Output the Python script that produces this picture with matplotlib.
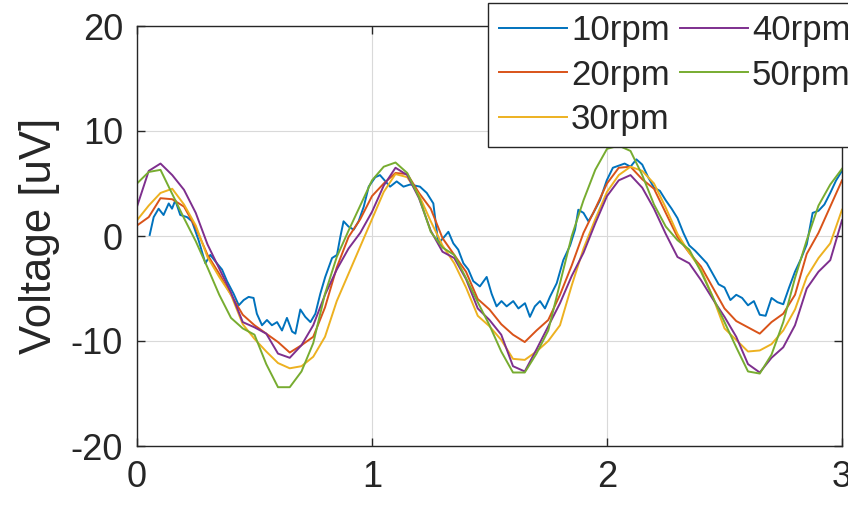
"""
Voltage traces for five rotation speeds, MATLAB-like look.
"""
import numpy as np
import matplotlib
matplotlib.use("Agg")
import matplotlib.pyplot as plt

plt.rcParams["font.family"] = ["Liberation Sans", "DejaVu Sans"]
plt.rcParams["axes.unicode_minus"] = False

# time axis (s), 0.05 step for the smoother traces
t = np.linspace(0, 3, 61)

# 10rpm is noisier, read at its own points
t10 = [0.054, 0.071, 0.092, 0.113, 0.135, 0.149, 0.163, 0.184, 0.213, 0.234,
       0.262, 0.291, 0.312, 0.340, 0.362, 0.383, 0.411, 0.433, 0.454, 0.475,
       0.496, 0.510, 0.532, 0.553, 0.574, 0.596, 0.617, 0.638, 0.660, 0.674,
       0.695, 0.716, 0.738, 0.759, 0.780, 0.801, 0.830, 0.851, 0.865, 0.879,
       0.900, 0.922, 0.943, 0.965, 0.986, 1.014, 1.034, 1.077, 1.105, 1.134,
       1.162, 1.204, 1.233, 1.261, 1.282, 1.303, 1.325, 1.346, 1.367, 1.389,
       1.410, 1.431, 1.459, 1.488, 1.509, 1.530, 1.551, 1.573, 1.601, 1.623,
       1.651, 1.672, 1.693, 1.715, 1.736, 1.757, 1.786, 1.814, 1.843, 1.864,
       1.878, 1.900, 1.921, 1.942, 1.970, 1.999, 2.025, 2.050, 2.075, 2.100,
       2.125, 2.150, 2.175, 2.200, 2.225, 2.250, 2.275, 2.300, 2.325, 2.350,
       2.375, 2.400, 2.425, 2.450, 2.475, 2.500, 2.525, 2.550, 2.575, 2.600,
       2.625, 2.650, 2.675, 2.700, 2.725, 2.750, 2.775, 2.800, 2.825, 2.850,
       2.875, 2.900, 2.925, 2.950, 2.975, 3.000]
rpm10 = [0.1, 1.8, 2.6, 2.0, 3.1, 2.6, 3.4, 2.0, 1.8, 1.4,
         -0.4, -2.6, -1.8, -2.6, -3.2, -4.3, -5.5, -6.6, -6.1, -5.8,
         -5.9, -7.4, -8.5, -8.0, -8.5, -8.2, -9.0, -7.8, -9.1, -9.3,
         -7.0, -7.7, -8.2, -7.4, -5.5, -3.9, -2.1, -1.8, -0.1, 1.4,
         0.9, 0.6, 1.4, 2.8, 4.7, 5.6, 5.8, 4.7, 5.2, 4.7,
         4.9, 4.7, 4.1, 3.1, -0.7, -0.2, 0.4, -0.7, -1.3, -2.6,
         -3.2, -4.3, -4.8, -3.9, -5.5, -6.7, -6.2, -6.7, -6.2, -6.9,
         -6.4, -7.7, -6.7, -6.2, -6.9, -5.8, -4.5, -2.3, -0.9, 0.6,
         2.5, 2.2, 1.4, 2.2, 3.4, 5.3, 6.5, 6.7, 6.9, 6.6,
         7.3, 6.8, 5.6, 4.6, 4.3, 3.4, 2.6, 1.7, 0.3, -0.9,
         -1.4, -2.0, -2.6, -3.6, -4.6, -4.9, -6.1, -5.6, -5.9, -6.6,
         -6.2, -7.5, -7.6, -5.9, -6.3, -6.5, -4.9, -3.4, -2.2, -0.8,
         2.2, 2.4, 3.0, 4.1, 5.3, 6.2]
rpm20 = [1.0, 1.8, 3.6, 3.5, 2.8, 0.8, -1.8, -3.6, -5.6, -7.5,
         -8.5, -9.3, -10.1, -11.1, -10.4, -9.6, -6.8, -3.0, -0.1, 1.6,
         3.8, 5.0, 6.0, 5.9, 4.1, 2.6, -0.2, -1.8, -3.4, -6.0,
         -7.0, -8.4, -9.4, -10.1, -9.0, -8.0, -5.6, -2.8, 0.3, 2.6,
         5.0, 6.5, 6.6, 5.4, 4.5, 2.2, -0.1, -1.6, -2.9, -4.9,
         -6.9, -8.1, -8.7, -9.3, -8.2, -7.4, -5.6, -1.7, 0.3, 2.8,
         5.3]
rpm30 = [1.5, 2.9, 4.1, 4.5, 3.0, 1.0, -2.0, -3.9, -5.6, -8.4,
         -9.8, -11.0, -12.1, -12.6, -12.4, -11.5, -9.6, -6.2, -3.6, -1.0,
         1.6, 4.2, 5.9, 5.6, 3.9, 1.4, -0.9, -2.6, -4.9, -7.6,
         -8.6, -9.9, -11.7, -11.8, -11.0, -10.0, -8.5, -4.7, -1.2, 1.6,
         4.2, 5.8, 6.6, 6.2, 5.0, 2.7, 0.2, -1.6, -3.2, -5.8,
         -8.8, -9.9, -11.0, -10.9, -10.3, -9.0, -7.0, -3.9, -2.1, -0.7,
         2.5]
rpm40 = [2.8, 6.2, 6.9, 5.8, 4.4, 2.2, -0.8, -3.1, -5.4, -8.2,
         -8.7, -9.3, -11.2, -11.6, -10.4, -8.5, -5.6, -3.2, -1.2, 0.3,
         2.3, 4.8, 6.5, 5.8, 3.6, 0.5, -1.5, -2.1, -4.1, -6.9,
         -8.0, -9.4, -12.4, -12.9, -10.8, -8.6, -6.4, -3.8, -1.6, 1.2,
         3.8, 5.3, 5.8, 4.6, 2.6, 0.2, -2.0, -2.6, -4.2, -6.0,
         -7.7, -9.6, -12.2, -13.0, -11.6, -10.6, -8.5, -5.0, -3.4, -2.3,
         1.5]
rpm50 = [5.0, 6.1, 6.3, 4.0, 1.7, -0.5, -3.0, -5.6, -7.8, -8.8,
         -9.4, -12.2, -14.4, -14.4, -12.9, -10.2, -5.5, -2.0, 0.5, 2.9,
         5.3, 6.6, 7.0, 6.0, 3.7, 0.4, -1.1, -1.8, -4.0, -6.3,
         -8.5, -11.0, -13.0, -13.0, -11.2, -9.0, -4.5, 0.0, 3.4, 6.3,
         8.3, 8.6, 8.1, 5.8, 3.0, 0.9, -0.4, -1.3, -3.4, -5.8,
         -8.2, -10.6, -12.9, -13.1, -11.3, -8.2, -4.0, -0.4, 2.9, 4.9,
         6.4]

labels = ["10rpm", "20rpm", "30rpm", "40rpm", "50rpm"]
colors = ["#0072BD", "#D95319", "#EDB120", "#7E2F8E", "#77AC30"]

fig = plt.figure(figsize=(8.48, 5.07), dpi=100)
ax = fig.add_axes([137/848, 61/507, 705/848, 420/507])

series = [(t10, rpm10), (t, rpm20), (t, rpm30), (t, rpm40), (t, rpm50)]
for (x, y), lab, c in zip(series, labels, colors):
    ax.plot(x, y, color=c, lw=1.4, label=lab)

ax.set_xlim(0, 3)
ax.set_ylim(-20, 20)
ax.set_xticks([0, 1, 2, 3])
ax.set_yticks([-20, -10, 0, 10, 20])
ax.grid(True, color="#d9d9d9", linewidth=0.8)
ax.set_axisbelow(True)
ax.tick_params(direction="in", length=6, width=1, colors="#262626",
               labelsize=26, top=True, right=True, pad=10)
for s in ax.spines.values():
    s.set_color("#262626")
    s.set_linewidth(1.0)
ax.set_ylabel("Voltage [uV]", fontsize=31.5, color="#262626", labelpad=8)

leg = fig.legend(loc="upper left", bbox_to_anchor=(488/848, 1 - 3/507),
                 ncol=2, fontsize=25, frameon=True, fancybox=False,
                 handlelength=1.95, handletextpad=0.12, columnspacing=0.3,
                 labelspacing=0.33, borderpad=0.32, borderaxespad=0)
leg.get_frame().set_edgecolor("#262626")
leg.get_frame().set_linewidth(1.0)
leg.get_frame().set_alpha(1)
for txt in leg.get_texts():
    txt.set_color("#262626")

fig.savefig("out.png", dpi=100)
